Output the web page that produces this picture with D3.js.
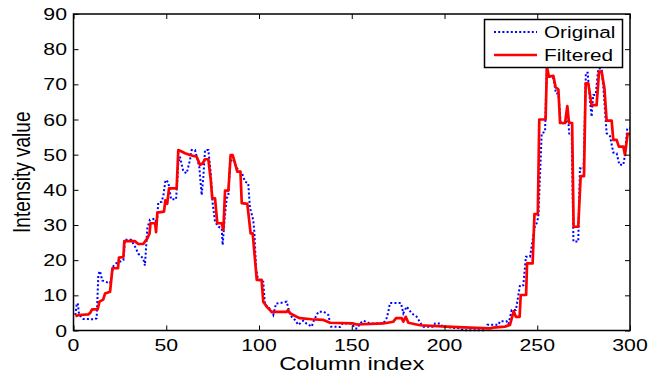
<!DOCTYPE html>
<html>
<head>
<meta charset="utf-8">
<script src="https://cdn.jsdelivr.net/npm/d3@7"></script>
<style>
  html, body { margin: 0; padding: 0; background: #fff; }
  svg { display: block; }
  text { font-family: "Liberation Sans", Arial, sans-serif; fill: #000; }
</style>
</head>
<body>
<svg id="chart" width="655" height="377"></svg>
<script>
// ---- data ----
const xTicks = [0, 50, 100, 150, 200, 250, 300];
const yTicks = [0, 10, 20, 30, 40, 50, 60, 70, 80, 90];
const seriesNames = ["Original", "Filtered"];

const origX = [1, 1.7, 2.3, 3, 5.3, 11.6, 12.5, 13.4, 14.3, 15.5, 19.7, 21.5, 23, 26.9, 27.8, 31, 33.2, 35, 37.6, 38.5, 39.8, 41.2, 44, 44.9, 45.7, 47.5, 48.5, 49.6, 51.1, 52.6, 55.3, 56.5, 57.4, 59.2, 61, 62.8, 63.7, 65.5, 67.8, 69.1, 70, 70.9, 72.7, 74, 75, 76.3, 78.1, 79.9, 80.4, 81.5, 82.6, 83.5, 84.4, 85.8, 86.8, 88.8, 91, 92.5, 94.2, 95.1, 96.9, 97.5, 98.4, 99.5, 102.3, 103.2, 105, 106.5, 107.7, 109.2, 111.3, 114.9, 116, 117.6, 119.4, 121.2, 123.9, 125.5, 128.4, 129.7, 132, 135, 137.4, 138.7, 143.7, 145, 150, 151.8, 153, 154.4, 156.2, 159.8, 167, 168.8, 169.7, 170.6, 176.5, 177.8, 179.6, 182.3, 185, 187.7, 188.6, 194, 194.9, 197.6, 199, 208.4, 210.1, 221.8, 223.1, 229, 229.9, 233.5, 234.5, 236.2, 238.5, 240.7, 242.5, 243.9, 246.1, 248.8, 249.7, 250.6, 252.4, 254.2, 255.1, 256, 258.7, 260.1, 261.4, 262.6, 265.5, 266.2, 267.3, 268.6, 269.5, 272.1, 273, 275, 276.2, 277.2, 278.3, 279.3, 280.2, 281.5, 282.9, 284.7, 285.6, 287.4, 289.2, 291, 292.8, 294.3, 296.4, 297.3, 298.5, 300];
const origY = [4.4, 7.3, 7.8, 4.5, 3.3, 3.2, 3.5, 16, 16.9, 14.2, 13.4, 18.3, 19.1, 20, 25.8, 25.8, 23.8, 21.8, 20.5, 18.5, 29.1, 31.5, 31.8, 30, 36.4, 36.6, 38.5, 42.8, 42.2, 37.3, 37.3, 47.5, 49.4, 45.2, 44.7, 48.5, 51.3, 51.3, 46.6, 38.5, 43.7, 51.3, 51.3, 44.7, 36.2, 30.9, 29.5, 29.1, 24.3, 32, 37.6, 38.5, 47.5, 49.4, 47.5, 45.6, 44.5, 42.3, 41.9, 35, 31.4, 28, 17.7, 14.4, 13.9, 7.3, 6.8, 5.5, 4.4, 7.7, 7.8, 8.2, 6, 3.9, 3, 1.6, 2.8, 2, 1.1, 3, 5.3, 5.3, 4.4, 1.1, 1.0, 2.0, 2, 0.6, 0.6, 2, 2.8, 2, 2, 3.5, 5.3, 7.8, 7.8, 4.9, 6.8, 4.9, 3.9, 1.6, 1.1, 1.1, 2, 2, 1.1, 0.6, 0.1, 0.1, 1.6, 1.6, 2.6, 2.6, 1.8, 5.8, 5.8, 12.9, 12.9, 21, 21, 30, 30.5, 32.4, 56.1, 56.5, 74.1, 72.2, 71.7, 67.4, 67.4, 58.9, 58.9, 63.6, 55.6, 55.6, 25.3, 25.3, 46.1, 46, 73.3, 73.3, 66, 60.8, 67, 67, 74.5, 74.5, 69.3, 56.1, 55.3, 50.6, 50.4, 47.1, 47.1, 50, 57.5, 57.5];

const filtX = [1, 3, 8, 9, 10, 13, 14, 16, 17, 19.7, 21, 24, 24.5, 26.9, 27.4, 33, 35, 37.6, 39.8, 41, 41.5, 44, 44.5, 45.2, 48.8, 49.5, 50.5, 51.5, 55.6, 56.5, 58.3, 60.1, 62.8, 66.4, 68.2, 69.6, 70.9, 72.7, 74, 74.8, 76.3, 77.5, 79.9, 80.8, 81.7, 83.5, 84.7, 85.8, 87.1, 88.3, 90, 90.7, 93.7, 95.5, 96.6, 98.8, 101.4, 102.3, 104.1, 106.8, 114.9, 115.6, 116.7, 120.3, 122.1, 128.4, 134.7, 138.3, 150.8, 152.7, 167, 172.4, 173.9, 176.9, 177.8, 179.1, 180.5, 186.8, 201.2, 213.7, 224.5, 226, 232.6, 235.3, 237.3, 238.5, 240.5, 241.1, 244, 244.5, 247.5, 248.5, 250.3, 251.1, 254.5, 255.2, 256.3, 258.7, 259.9, 261.4, 262.3, 265, 266.2, 267.1, 268.8, 269.6, 272.1, 273.4, 275.2, 276.1, 277.5, 279.3, 282, 283.3, 284.7, 286.2, 287.4, 290.1, 291, 292.8, 294, 296.4, 297.3, 298.7, 300];
const filtY = [4.1, 4.4, 4.6, 5.0, 6.0, 6.0, 8.2, 8.8, 10.5, 11, 17.7, 17.7, 20.7, 20.9, 25.4, 25.4, 24.6, 24.6, 26.2, 27.6, 30.5, 30.5, 28, 33.5, 33.8, 37, 36, 40.4, 40.4, 51.3, 50.9, 50.4, 49.9, 49.4, 47.1, 47.5, 48.7, 48.7, 42.8, 37.6, 37.6, 30.5, 30.5, 28.6, 39.8, 39.8, 49.9, 49.9, 47.5, 45.2, 45.2, 36.2, 36, 27.6, 27.6, 14.4, 14.4, 8.2, 6.8, 5.3, 5.3, 5.8, 4.9, 3.9, 3.5, 3.2, 3, 2.2, 2.0, 1.7, 2.0, 2.5, 3.5, 3.5, 2.5, 3.9, 2.2, 1.5, 1.1, 0.8, 0.6, 0.8, 1.1, 1.6, 5.5, 3.9, 3.9, 10.1, 10.1, 19.1, 19.1, 33.1, 33.1, 60, 60, 75, 72.2, 72.4, 69.2, 68.5, 59, 59, 63.8, 59.1, 59, 29.5, 29.5, 43.9, 43.9, 70.3, 70.3, 64.1, 64.1, 73.6, 73.6, 68.9, 59.7, 59.7, 54.2, 54.2, 52.3, 52.3, 49.9, 55.9, 55.9];

// ---- layout ----
const svg = d3.select("#chart");
const mLeft = 73.5, mRight = 630, mTop = 14, mBottom = 330.5;
const x = d3.scaleLinear().domain([0, 300]).range([mLeft, mRight]);
const y = d3.scaleLinear().domain([0, 90]).range([mBottom, mTop]);
const SX = 1.25; // horizontal stretch of the reference text

const origData = origX.map((v, i) => [v, origY[i]]);
const filtData = filtX.map((v, i) => [v, filtY[i]]);
const line = d3.line().x(d => x(d[0])).y(d => y(d[1]));

// series
svg.append("path").datum(origData)
  .attr("d", line).attr("fill", "none")
  .attr("stroke", "#0000ff").attr("stroke-width", 2)
  .attr("stroke-dasharray", "2,2.2");
svg.append("path").datum(filtData)
  .attr("d", line).attr("fill", "none")
  .attr("stroke", "#ff0000").attr("stroke-width", 2.7)
  .attr("stroke-linejoin", "round");

// axes box
svg.append("rect").attr("x", mLeft).attr("y", mTop)
  .attr("width", mRight - mLeft).attr("height", mBottom - mTop)
  .attr("fill", "none").attr("stroke", "#000").attr("stroke-width", 1.5);

// ticks (inward, all four sides) using d3 axes
const tickLen = 5;
const bx = svg.append("g").attr("transform", `translate(0,${mBottom})`)
  .call(d3.axisTop(x).tickValues(xTicks).tickSize(tickLen).tickFormat(""));
const tx = svg.append("g").attr("transform", `translate(0,${mTop})`)
  .call(d3.axisBottom(x).tickValues(xTicks).tickSize(tickLen).tickFormat(""));
const ly = svg.append("g").attr("transform", `translate(${mLeft},0)`)
  .call(d3.axisRight(y).tickValues(yTicks).tickSize(tickLen).tickFormat(""));
const ry = svg.append("g").attr("transform", `translate(${mRight},0)`)
  .call(d3.axisLeft(y).tickValues(yTicks).tickSize(tickLen).tickFormat(""));
[bx, tx, ly, ry].forEach(g => {
  g.select(".domain").remove();
  g.selectAll("line").attr("stroke", "#000").attr("stroke-width", 1);
});

// tick labels
svg.append("g").selectAll("text").data(xTicks).join("text")
  .attr("transform", d => `translate(${x(d)},351) scale(${SX},1)`)
  .attr("text-anchor", "middle").attr("font-size", 17)
  .text(d => d);
svg.append("g").selectAll("text").data(yTicks).join("text")
  .attr("transform", d => `translate(67,${y(d) + 6}) scale(${SX},1)`)
  .attr("text-anchor", "end").attr("font-size", 17)
  .text(d => d);

// axis labels
svg.append("text")
  .attr("transform", `translate(${(mLeft + mRight) / 2},369.5) scale(${SX},1)`)
  .attr("text-anchor", "middle").attr("font-size", 19)
  .text("Column index");
svg.append("text")
  .attr("transform", `translate(29.5,${(mTop + mBottom) / 2}) scale(${SX},1) rotate(-90)`)
  .attr("text-anchor", "middle").attr("font-size", 19)
  .text("Intensity value");

// legend
const lg = svg.append("g");
lg.append("rect").attr("x", 484.5).attr("y", 19.5).attr("width", 138).attr("height", 48)
  .attr("fill", "#fff").attr("stroke", "#000").attr("stroke-width", 1.5);
const items = [
  { name: seriesNames[0], color: "#0000ff", dash: "2,2.2", w: 2, yy: 32 },
  { name: seriesNames[1], color: "#ff0000", dash: null, w: 2.7, yy: 55 }
];
items.forEach(it => {
  lg.append("line").attr("x1", 494).attr("x2", 537).attr("y1", it.yy).attr("y2", it.yy)
    .attr("stroke", it.color).attr("stroke-width", it.w)
    .attr("stroke-dasharray", it.dash);
  lg.append("text")
    .attr("transform", `translate(544,${it.yy + 6}) scale(1.22,1)`)
    .attr("font-size", 17).text(it.name);
});
</script>
</body>
</html>
